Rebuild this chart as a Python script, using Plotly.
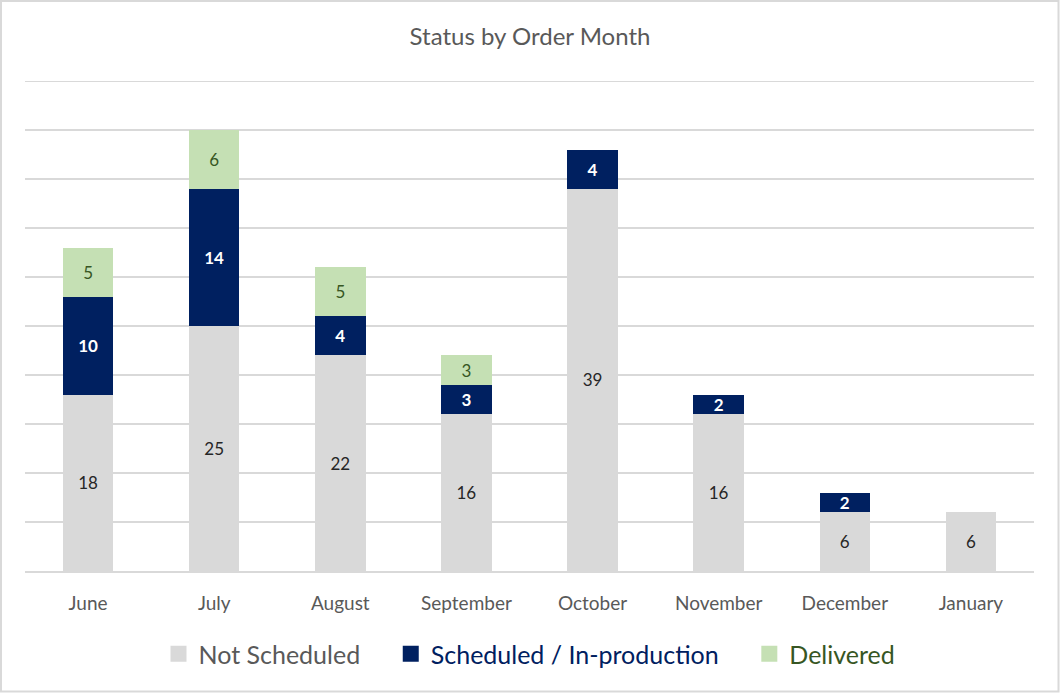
import plotly.graph_objects as go

months = ["June", "July", "August", "September", "October", "November", "December", "January"]
not_scheduled = [18, 25, 22, 16, 39, 16, 6, 6]
scheduled = [10, 14, 4, 3, 4, 2, 2, 0]
delivered = [5, 6, 5, 3, 0, 0, 0, 0]
series_names = ["Not Scheduled", "Scheduled / In-production", "Delivered"]
series_colors = ["#d9d9d9", "#002060", "#c5e0b4"]
legend_text_colors = ["#595959", "#002060", "#375623"]
label_colors = ["#262626", "#ffffff", "#375623"]

FONT = "Lato"
W, H = 1060, 693
ml, mr, mt, mb = 25, 26, 81, 122

def lbl(vals):
    return [str(v) if v else "" for v in vals]

fig = go.Figure()
for vals, name, col, lc in zip([not_scheduled, scheduled, delivered], series_names, series_colors, label_colors):
    fig.add_trace(go.Bar(
        x=months, y=vals, name=name,
        marker=dict(color=col, line=dict(width=0)),
        text=lbl(vals), textposition="inside", insidetextanchor="middle",
        textangle=0, constraintext="none",
        textfont=dict(color=lc, size=17, family=FONT,
                      weight="bold" if lc == "#ffffff" else "normal"),
        showlegend=False,
    ))

# legend entries with larger square markers and coloured text
pad = "&nbsp;" * 4
for i, (name, col, tc) in enumerate(zip(series_names, series_colors, legend_text_colors)):
    suffix = pad if i < len(series_names) - 1 else ""
    fig.add_trace(go.Scatter(
        x=[None], y=[None], mode="markers",
        name=f"<span style='color:{tc}'>{name}</span>{suffix}",
        marker=dict(symbol="square", size=16, color=col),
        showlegend=True,
    ))

pw = W - ml - mr
ph = H - mt - mb

fig.update_layout(
    width=W, height=H,
    barmode="stack", bargap=0.6,
    plot_bgcolor="white", paper_bgcolor="white",
    margin=dict(l=ml, r=mr, t=mt, b=mb, autoexpand=False),
    title=dict(text="Status by Order Month", x=0.5, xanchor="center", y=1 - 37 / H, yanchor="middle",
               font=dict(family=FONT, size=24, color="#595959")),
    font=dict(family=FONT),
    uniformtext=dict(mode="show", minsize=10),
    xaxis=dict(showgrid=False, showline=True, linecolor="#d9d9d9", linewidth=2,
               ticks="", tickfont=dict(size=19, color="#595959", family=FONT), ticklabelstandoff=14),
    yaxis=dict(range=[0, 50], dtick=5, showgrid=True, gridcolor="#d9d9d9", gridwidth=2,
               showticklabels=False, zeroline=False, fixedrange=True),
    legend=dict(orientation="h", x=0.5, xanchor="center", y=-(654 - 571) / ph, yanchor="middle",
                font=dict(size=25, family=FONT, color="#595959"), traceorder="normal",
                itemclick=False),
    showlegend=True,
)

# top gridline at 50
fig.add_shape(type="line", xref="paper", yref="y", x0=0, x1=1, y0=50, y1=50,
              line=dict(color="#d9d9d9", width=2), layer="below")

# outer border
fig.add_shape(type="rect", xref="paper", yref="paper",
              x0=-(ml - 1) / pw, x1=1 + (mr - 1.5) / pw,
              y0=-(mb - 1.5) / ph, y1=1 + (mt - 1) / ph,
              line=dict(color="#d9d9d9", width=2), layer="below")

fig.write_html("out.html")
